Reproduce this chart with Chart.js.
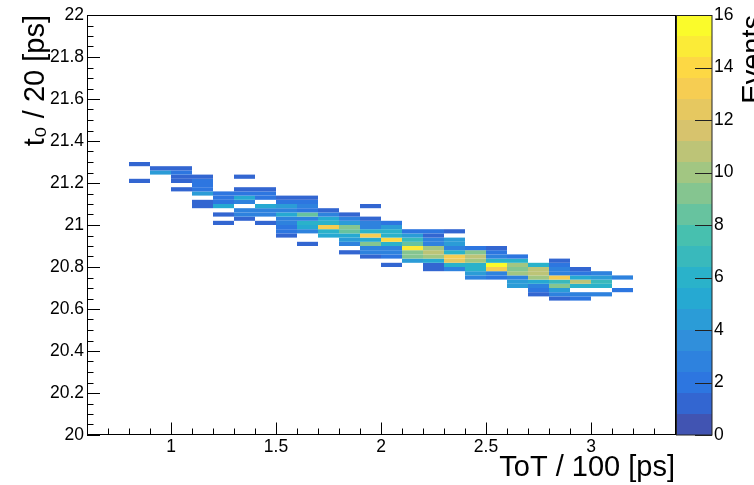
<!DOCTYPE html>
<html><head><meta charset="utf-8">
<script src="https://cdn.jsdelivr.net/npm/chart.js@4.4.1/dist/chart.umd.min.js"></script>
<style>html,body{margin:0;padding:0;background:#fff;}canvas{display:block;}</style>
</head><body>
<canvas id="c" width="754" height="485"></canvas>
<script>
// ---- data ----
// lower edge of each ToT column (bin width 0.1)
const totLow = [0.8,0.9,1.0,1.1,1.2,1.3,1.4,1.5,1.6,1.7,1.8,1.9,2.0,2.1,2.2,2.3,2.4,2.5,2.6,2.7,2.8,2.9,3.0,3.1];
// lower edge of the lowest filled t0 bin in each column (bin width 0.02)
const t0Low = [21.20,21.24,21.16,21.08,21.00,21.02,21.00,20.94,20.90,20.94,20.86,20.84,20.80,20.82,20.78,20.78,20.74,20.74,20.70,20.66,20.64,20.64,20.66,20.68];
// counts per column, from the lowest t0 bin upwards
const colCounts = [
  [1,0,0,0,1],
  [4,1],
  [1,0,1,1,2,1],
  [1,1,0,4,2,2,2,1],
  [1,0,1,0,5,2,2,2],
  [1,3,3,0,3,5,2,1,0,0,1],
  [1,0,3,3,5,0,2,2,1],
  [1,2,2,3,3,5,3,4,2,1],
  [1,0,0,3,5,6,3,8,2,3,2,1],
  [5,6,13,6,5,3,1],
  [1,0,3,4,5,8,9,4,3,1],
  [1,3,3,9,5,13,6,3,3,1,0,0,1],
  [1,0,2,3,3,6,14,6,6,4,2],
  [4,9,9,15,8,7,4,2],
  [1,1,5,10,11,10,3,3,1,2],
  [3,6,12,13,6,3,4,4,0,1],
  [3,4,6,6,10,11,9,2],
  [2,3,13,16,6,3,2,1],
  [4,4,3,10,9,10,6,2],
  [1,2,3,5,10,11,11,6],
  [1,3,4,9,7,13,3,3,2,1],
  [2,3,0,6,11,5,2,1],
  [3,0,6,7,4,3],
  [2,0,0,3]
];
const totBinWidth = 0.1;
const t0BinWidth = 0.02;
const xTickLabels = [1, 1.5, 2, 2.5, 3];
const yTickLabels = [20, 20.2, 20.4, 20.6, 20.8, 21, 21.2, 21.4, 21.6, 21.8, 22];
const zTickLabels = [0, 2, 4, 6, 8, 10, 12, 14, 16];
const xRange = [0.6, 3.4];
const yRange = [20, 22];
const zRange = [0, 16];
const nContours = 20;

// ---- build cells ----
const cells = [];
totLow.forEach((tx, i) => {
  colCounts[i].forEach((n, j) => {
    if (n > 0) {
      const y0 = +(t0Low[i] + j * t0BinWidth).toFixed(3);
      cells.push({x: tx + totBinWidth / 2, y: y0 + t0BinWidth / 2, x0: tx, x1: tx + totBinWidth, y0: y0, y1: y0 + t0BinWidth, v: n});
    }
  });
});

// ---- kBird palette ----
const ST = [0,0.125,0.25,0.375,0.5,0.625,0.75,0.875,1];
const PR = [0.2082,0.0592,0.0780,0.0232,0.1802,0.5301,0.8186,0.9956,0.9764];
const PG = [0.1664,0.3599,0.5041,0.6419,0.7178,0.7492,0.7328,0.7862,0.9832];
const PB = [0.5293,0.8684,0.8385,0.7914,0.6425,0.4662,0.3499,0.1968,0.0539];
const paletteAlpha = 0.88;
function bird(f) {
  f = Math.max(0, Math.min(1, f));
  const i = Math.min(7, Math.floor(f * 8));
  const t = (f - ST[i]) / 0.125;
  const c = a => Math.round(255 * (paletteAlpha * (a[i] + (a[i+1] - a[i]) * t) + (1 - paletteAlpha)));
  return `rgb(${c(PR)},${c(PG)},${c(PB)})`;
}
function levelColor(lev) {
  const idx = Math.floor((lev + 0.99) * 255 / nContours);
  return bird(Math.min(254, idx) / 254);
}
function valueLevel(v) {
  let lev = Math.floor(0.01 + (v - zRange[0]) * nContours / (zRange[1] - zRange[0]));
  return Math.max(0, Math.min(nContours - 1, lev));
}

const FONT = '"Liberation Sans", Arial, Helvetica, sans-serif';

const histPlugin = {
  id: 'hist2d',
  beforeDatasetsDraw(chart) {
    const {ctx, chartArea: a} = chart;
    const xs = chart.scales.x, ys = chart.scales.y;
    ctx.save();
    ctx.beginPath(); ctx.rect(a.left, a.top, a.right - a.left, a.bottom - a.top); ctx.clip();
    chart.data.datasets[0].data.forEach(c => {
      const px0 = xs.getPixelForValue(c.x0), px1 = xs.getPixelForValue(c.x1);
      const py0 = ys.getPixelForValue(c.y1), py1 = ys.getPixelForValue(c.y0);
      ctx.fillStyle = levelColor(valueLevel(c.v));
      ctx.fillRect(px0, py0, px1 - px0, py1 - py0);
    });
    ctx.restore();
  },
  afterDraw(chart) {
    const {ctx, chartArea: a} = chart;
    const xs = chart.scales.x, ys = chart.scales.y, zs = chart.scales.z;
    ctx.save();
    // colour bar
    const cx0 = a.right + 1, cx1 = 712;
    for (let lev = 0; lev < nContours; lev++) {
      const v0 = zRange[0] + lev * (zRange[1] - zRange[0]) / nContours;
      const v1 = zRange[0] + (lev + 1) * (zRange[1] - zRange[0]) / nContours;
      const p0 = zs.getPixelForValue(v0), p1 = zs.getPixelForValue(v1);
      ctx.fillStyle = levelColor(lev);
      ctx.fillRect(cx0, p1, cx1 - cx0, p0 - p1);
    }
    ctx.strokeStyle = '#222'; ctx.lineWidth = 1;
    ctx.strokeRect(cx0 + 0.5, a.top + 0.5, cx1 - cx0 - 0.5, a.bottom - a.top - 0.5);
    ctx.beginPath();
    zTickLabels.forEach(v => {
      const p = Math.round(zs.getPixelForValue(v)) + 0.5;
      ctx.moveTo(cx1 - 17, p); ctx.lineTo(cx1, p);
    });
    ctx.stroke();
    // frame
    ctx.strokeStyle = '#000';
    ctx.strokeRect(Math.round(a.left) + 0.5, Math.round(a.top) + 0.5, Math.round(a.right - a.left), Math.round(a.bottom - a.top) - 1);
    // x ticks
    ctx.beginPath();
    for (let k = Math.round(xRange[0] * 10); k <= Math.round(xRange[1] * 10); k++) {
      const v = k / 10;
      const p = Math.round(xs.getPixelForValue(v)) + 0.5;
      const major = xTickLabels.some(t => Math.abs(t - v) < 1e-6);
      ctx.moveTo(p, a.bottom); ctx.lineTo(p, a.bottom - (major ? 12.5 : 6.5));
    }
    // y ticks
    for (let k = Math.round(yRange[0] * 20); k <= Math.round(yRange[1] * 20); k++) {
      const v = k / 20;
      const p = Math.round(ys.getPixelForValue(v)) + 0.5;
      const major = yTickLabels.some(t => Math.abs(t - v) < 1e-6);
      ctx.moveTo(a.left, p); ctx.lineTo(a.left + (major ? 13 : 6.5), p);
    }
    ctx.stroke();
    // colour-bar title
    ctx.fillStyle = '#000';
    ctx.font = '29px ' + FONT;
    ctx.translate(762, a.top);
    ctx.rotate(-Math.PI / 2);
    ctx.textAlign = 'right'; ctx.textBaseline = 'alphabetic';
    ctx.fillText('Events', 0, 0);
    ctx.restore();
  }
};

const tickFont = {family: FONT, size: 17.5};
const titleFont = {family: FONT, size: 29};
const noPad = s => { s.paddingTop = 0; s.paddingBottom = 0; s.paddingLeft = 0; s.paddingRight = 0; };

new Chart(document.getElementById('c'), {
  type: 'scatter',
  data: {datasets: [{data: cells, pointRadius: 0, pointHoverRadius: 0, showLine: false}]},
  options: {
    responsive: false,
    animation: false,
    events: [],
    layout: {padding: {top: 15, left: 0, right: 0, bottom: 0}},
    plugins: {legend: {display: false}, tooltip: {enabled: false}},
    scales: {
      x: {
        type: 'linear', position: 'bottom', min: xRange[0], max: xRange[1],
        afterBuildTicks: s => { s.ticks = xTickLabels.map(v => ({value: v})); },
        afterFit: s => { s.height = 50; noPad(s); },
        grid: {display: false, drawTicks: false}, border: {display: false},
        ticks: {font: tickFont, color: '#000', padding: 2, maxRotation: 0, autoSkip: false, callback: v => String(v)},
        title: {display: true, text: 'ToT / 100 [ps]', align: 'end', font: titleFont, color: '#000', padding: {top: 0, bottom: 0}}
      },
      y: {
        type: 'linear', position: 'left', min: yRange[0], max: yRange[1],
        afterBuildTicks: s => { s.ticks = yTickLabels.map(v => ({value: v})); },
        afterFit: s => { s.width = 87; noPad(s); },
        grid: {display: false, drawTicks: false}, border: {display: false},
        ticks: {font: tickFont, color: '#000', padding: 3, autoSkip: false, callback: v => String(+(+v).toFixed(1))},
        title: {display: true, text: 't\u2080 / 20 [ps]', align: 'end', font: titleFont, color: '#000', padding: {top: 19, bottom: 0}}
      },
      z: {
        type: 'linear', position: 'right', min: zRange[0], max: zRange[1],
        afterBuildTicks: s => { s.ticks = zTickLabels.map(v => ({value: v})); },
        afterFit: s => { s.width = 79; noPad(s); },
        grid: {display: false, drawTicks: false}, border: {display: false},
        ticks: {font: tickFont, color: '#000', padding: 39, autoSkip: false, callback: v => String(v)}
      }
    }
  },
  plugins: [histPlugin]
});
</script>
</body></html>
